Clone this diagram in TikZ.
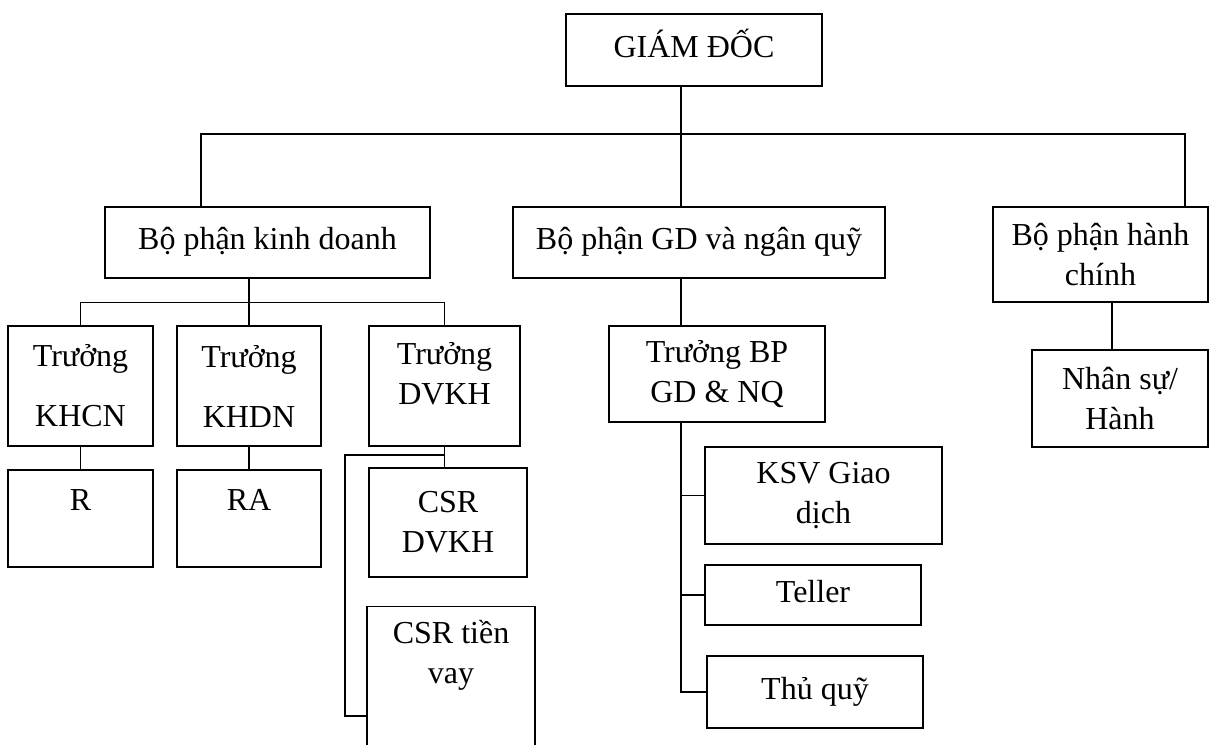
\documentclass[tikz,border=0pt]{standalone}
\usepackage{fontspec}
\setmainfont{Liberation Serif}
\usetikzlibrary{calc}

\tikzset{
  box/.style={draw, line width=1.3pt, rectangle, align=center, inner sep=2pt},
  oneline/.style={text height=22pt, text depth=8pt},
  link/.style={line width=1.3pt}
}

\begin{document}
\begin{tikzpicture}[x=1pt, y=-1pt, font=\fontsize{32}{40}\selectfont]
  \useasboundingbox (0,0) rectangle (1209,744);

  % Director
  \node[box, oneline, minimum width=256pt, minimum height=72pt] (gd) at (694,50) {GIÁM ĐỐC};

  % Departments
  \node[box, oneline, minimum width=325pt, minimum height=71pt] (kd) at (267.5,242.5) {Bộ phận kinh doanh};
  \node[box, oneline, minimum width=372pt, minimum height=71pt] (nq) at (699,242.5) {Bộ phận GD và ngân quỹ};
  \node[box, minimum width=215pt, minimum height=95pt] (hc) at (1100.5,254.5) {Bộ phận hành\\chính};

  % Business heads
  \node[box, minimum width=145pt, minimum height=120pt] (khcn) at (80.5,386) {Trưởng\\[20pt]KHCN};
  \node[box, minimum width=144pt, minimum height=120pt] (khdn) at (249,386) {Trưởng\\[20pt]KHDN};
  \node[box, text depth=25pt, minimum width=151pt, minimum height=120pt] (dvkh) at (444.5,386) {Trưởng\\DVKH};

  % Business staff
  \node[box, oneline, text depth=39pt, minimum width=145pt, minimum height=97pt] (r) at (80.5,518.5) {R};
  \node[box, oneline, text depth=39pt, minimum width=144pt, minimum height=97pt] (ra) at (249,518.5) {RA};
  \node[box, minimum width=158pt, minimum height=109pt] (csrdv) at (448,522.5) {CSR\\DVKH};
  \node[box, anchor=north, inner sep=14pt, text depth=100pt, minimum width=168pt] (csrtv) at (451,606) {CSR tiền\\vay};

  % Teller side
  \node[box, minimum width=216pt, minimum height=96pt] (bp) at (717,374) {Trưởng BP\\GD \& NQ};
  \node[box, minimum width=237pt, minimum height=97pt] (ksv) at (823.5,495.5) {KSV Giao\\dịch};
  \node[box, oneline, minimum width=216pt, minimum height=60pt] (teller) at (813,595) {Teller};
  \node[box, oneline, minimum width=216pt, minimum height=72pt] (tq) at (815,692) {Thủ quỹ};

  % Admin
  \node[box, minimum width=176pt, minimum height=97pt] (ns) at (1120,398.5) {Nhân sự/\\Hành};

  % Bus points
  \coordinate (trunk) at (681,134);
  \coordinate (busL) at (201,134);
  \coordinate (busR) at (1185,134);
  \coordinate (brk) at (345,455);
  \coordinate (brkend) at (345,716);
  \coordinate (hcx) at (1112,0);

  % Lines
  \draw[link] (gd.south -| trunk) -- (nq.north -| trunk);
  \draw[link] (kd.north -| busL) |- (busR) -- (hc.north -| busR);
  \draw[link] (kd.south -| khdn.north) -- (khdn.north);
  \draw[link] (khcn.north) -- ++(0,-23) -| (dvkh.north);
  \draw[link] (khcn.south) -- (r.north);
  \draw[link] (khdn.south) -- (ra.north);
  \draw[link] (dvkh.south) -- (dvkh.south |- csrdv.north);
  \draw[link] (dvkh.south |- brk) -- (brk) -- (brkend) -- (brkend -| csrtv.west);
  \draw[link] (nq.south -| trunk) -- (bp.north -| trunk);
  \draw[link] (bp.south -| trunk) |- (tq.west);
  \draw[link] (trunk |- ksv.west) -- (ksv.west);
  \draw[link] (trunk |- teller.west) -- (teller.west);
  \draw[link] (hc.south -| hcx) -- (ns.north -| hcx);
\end{tikzpicture}
\end{document}
